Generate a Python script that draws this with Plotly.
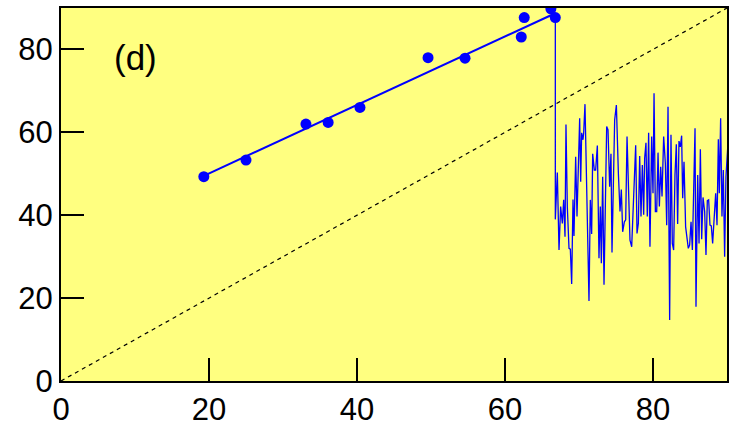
import plotly.graph_objects as go

# Measured points
pts_x = [19.3, 25.0, 33.1, 36.1, 40.4, 49.6, 54.6, 62.2, 62.6, 66.2, 66.8]
pts_y = [49.3, 53.3, 62.0, 62.4, 66.0, 78.0, 77.9, 83.0, 87.7, 89.8, 87.7]

# Fitted line end points
fit_x = [19.3, 66.5]
fit_y = [49.5, 88.5]

# Diagonal reference line
diag_x = [0, 90]
diag_y = [0, 90]

# Noisy series after the break
noise_x = [66.80, 66.80, 67.07, 67.30, 67.52, 67.75, 67.93, 68.11, 68.24, 68.42, 68.65,
           68.83, 69.01, 69.19, 69.32, 69.55, 69.73, 70.09, 70.23, 70.36, 70.54,
           70.63, 70.81, 71.04, 71.35, 71.53, 71.71, 71.85, 72.07, 72.25, 72.48,
           72.70, 72.88, 73.02, 73.20, 73.38, 73.74, 73.92, 74.14, 74.32, 74.46,
           74.82, 75.05, 75.32, 75.54, 75.72, 75.90, 76.13, 76.31, 76.49, 76.76,
           76.89, 77.12, 77.34, 77.66, 77.84, 78.02, 78.20, 78.38, 78.56, 78.74,
           78.87, 79.05, 79.23, 79.41, 79.59, 79.82, 80.00, 80.14, 80.32, 80.50,
           80.68, 80.86, 81.04, 81.22, 81.44, 81.67, 81.85, 82.03, 82.25, 82.43,
           82.61, 82.79, 82.97, 83.15, 83.33, 83.51, 83.69, 83.87, 84.01, 84.19,
           84.41, 84.59, 84.77, 84.95, 85.14, 85.32, 85.50, 85.68, 85.81, 86.04,
           86.22, 86.40, 86.58, 86.76, 86.98, 87.16, 87.34, 87.52, 87.70, 87.88,
           88.06, 88.29, 88.47, 88.65, 88.83, 88.96, 89.14, 89.32, 89.50, 89.68,
           89.86, 90.09]
noise_y = [87.7, 39.0, 50.3, 31.6, 42.1, 38.0, 43.7, 34.8, 61.9, 42.1, 32.0,
           31.8, 23.4, 43.8, 35.0, 54.1, 39.7, 63.4, 48.1, 59.9, 58.2,
           59.8, 66.8, 46.1, 19.3, 43.7, 35.5, 54.8, 50.9, 50.9, 56.8,
           29.6, 42.1, 28.4, 49.3, 23.2, 61.4, 60.6, 46.9, 54.8, 31.0,
           63.0, 66.6, 50.1, 40.9, 46.2, 36.0, 38.4, 38.9, 59.0, 41.3,
           34.0, 32.4, 41.3, 56.9, 35.6, 38.0, 54.3, 39.7, 52.1, 40.1,
           53.7, 57.5, 39.7, 59.9, 32.4, 59.0, 45.3, 69.4, 40.9, 40.9,
           55.1, 42.1, 51.7, 44.5, 59.0, 52.5, 37.6, 66.2, 14.7, 59.4,
           33.2, 31.6, 49.7, 57.1, 37.9, 57.9, 56.5, 59.2, 44.1, 52.9,
           37.2, 34.0, 32.0, 32.8, 38.4, 31.6, 48.5, 61.0, 17.9, 49.7,
           33.2, 55.9, 34.2, 44.3, 40.9, 30.4, 43.5, 43.7, 37.6, 37.4,
           33.2, 40.9, 45.3, 37.6, 58.3, 45.3, 63.4, 39.7, 50.9, 30.0,
           49.3, 56.2]

tick_vals = [0, 20, 40, 60, 80]
panel_label = "(d)"

fig = go.Figure()
fig.add_trace(go.Scatter(x=diag_x, y=diag_y, mode="lines",
                         line=dict(color="black", width=1.2, dash="4px,4px")))
fig.add_trace(go.Scatter(x=noise_x, y=noise_y, mode="lines",
                         line=dict(color="#0000FF", width=1.3)))
fig.add_trace(go.Scatter(x=fit_x, y=fit_y, mode="lines",
                         line=dict(color="#0000FF", width=2)))
fig.add_trace(go.Scatter(x=pts_x, y=pts_y, mode="markers",
                         marker=dict(color="#0000FF", size=11)))

axis_common = dict(range=[0, 90], showgrid=False, zeroline=False, automargin=False,
                   showline=True, linecolor="black", linewidth=2, mirror=True,
                   ticks="inside", ticklen=23, tickwidth=2, tickcolor="black",
                   tickvals=tick_vals,
                   tickfont=dict(family="Liberation Sans, Arial", size=31, color="black"))

fig.update_layout(
    width=732, height=423,
    margin=dict(l=61, r=5, t=8, b=42),
    plot_bgcolor="#FFFF80",
    paper_bgcolor="white",
    showlegend=False,
    hovermode=False,
    xaxis=axis_common,
    yaxis=axis_common,
    annotations=[dict(x=10.1, y=78, xref="x", yref="y", text=panel_label,
                      showarrow=False,
                      font=dict(family="Liberation Sans, Arial", size=35, color="black"))],
)

fig.write_html("out.html",
               config={"displayModeBar": False, "staticPlot": True},
               post_script="document.body.style.margin='0';document.body.style.overflow='hidden';")
